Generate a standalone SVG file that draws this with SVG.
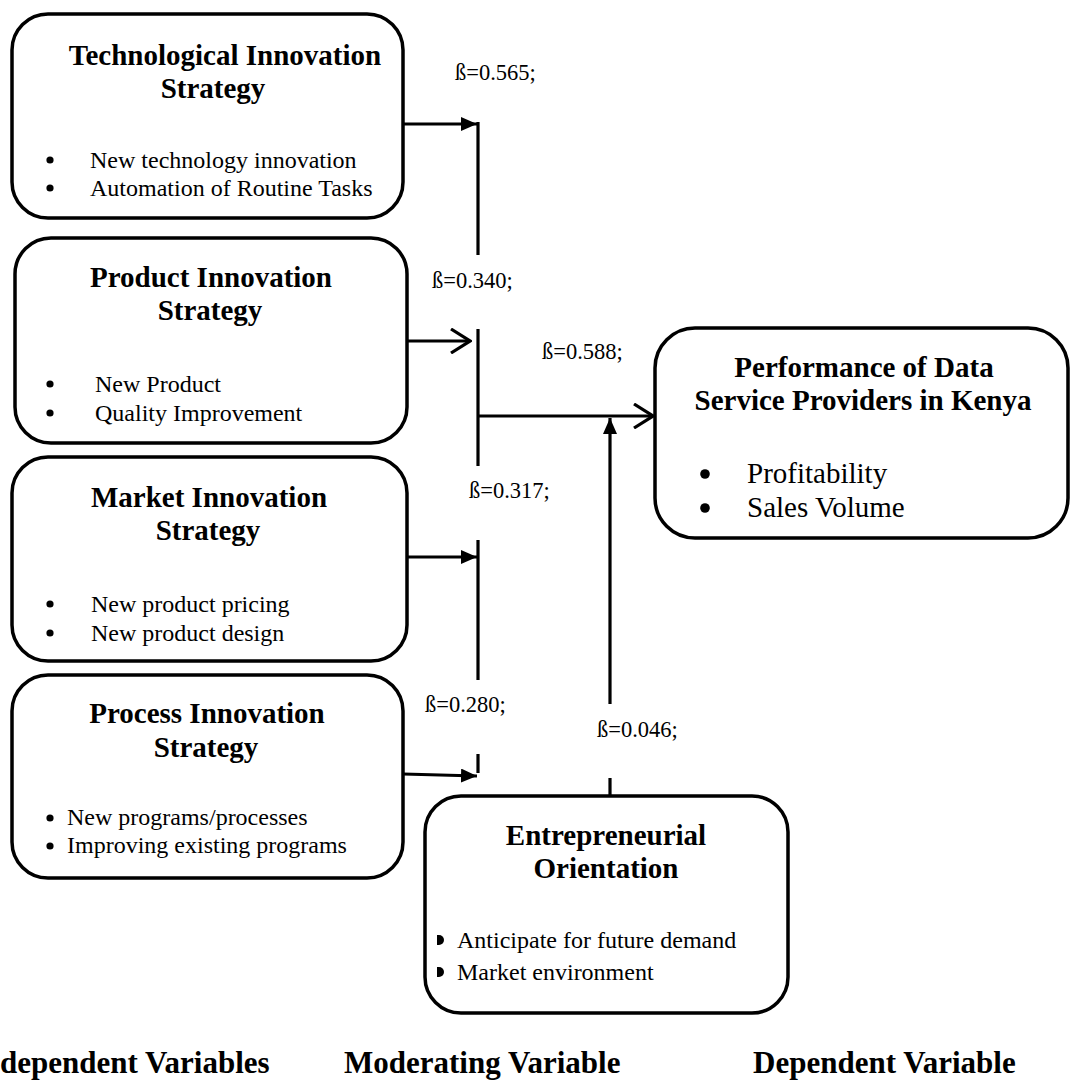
<svg xmlns="http://www.w3.org/2000/svg" width="1072" height="1081" viewBox="0 0 1072 1081">
  <style>
    .box { fill: #fff; stroke: #000; stroke-width: 3.5; }
    .title { font-family: "Liberation Serif", "Times New Roman", serif; font-weight: bold; font-size: 29px; text-anchor: middle; fill: #000; }
    .item { font-family: "Liberation Serif", "Times New Roman", serif; font-size: 24px; fill: #000; }
    .big { font-size: 29px; }
    .beta { font-family: "Liberation Serif", "Times New Roman", serif; font-size: 22.5px; fill: #000; }
    .foot { font-family: "Liberation Serif", "Times New Roman", serif; font-weight: bold; font-size: 31px; fill: #000; }
    .line { fill: none; stroke: #000; stroke-width: 3.2; }
    .dot { fill: #000; }
  </style>
  <defs>
    <marker id="solid" viewBox="0 0 16 14" refX="16" refY="7" markerWidth="16" markerHeight="14" markerUnits="userSpaceOnUse" orient="auto">
      <path d="M0,0 L16,7 L0,14 Z" fill="#000"/>
    </marker>
    <marker id="open" viewBox="0 0 22 26" refX="20" refY="13" markerWidth="22" markerHeight="26" markerUnits="userSpaceOnUse" orient="auto">
      <path d="M1,1 L20,13 L1,25" fill="none" stroke="#000" stroke-width="3.2"/>
    </marker>
  </defs>

  <!-- connectors -->
  <g id="connectors">
    <path class="line" d="M403,124 H477" marker-end="url(#solid)"/>
    <path class="line" d="M478,122 V255"/>
    <path class="line" d="M401,341 H470" marker-end="url(#open)"/>
    <path class="line" d="M478,329 V466"/>
    <path class="line" d="M478,416 H653" marker-end="url(#open)"/>
    <path class="line" d="M407,557 H477" marker-end="url(#solid)"/>
    <path class="line" d="M478,540 V680"/>
    <path class="line" d="M478,754 V773"/>
    <path class="line" d="M403,774 L477,776" marker-end="url(#solid)"/>
    <path class="line" d="M610,704 V418" marker-end="url(#solid)"/>
    <path class="line" d="M610,778 V797"/>
  </g>

  <!-- coefficients -->
  <g id="coefficients">
    <text class="beta" x="455" y="80">ß=0.565;</text>
    <text class="beta" x="432" y="288">ß=0.340;</text>
    <text class="beta" x="542" y="359">ß=0.588;</text>
    <text class="beta" x="469" y="498">ß=0.317;</text>
    <text class="beta" x="425" y="712">ß=0.280;</text>
    <text class="beta" x="597" y="737">ß=0.046;</text>
  </g>

  <g id="technological">
    <rect class="box" x="12" y="14" width="391" height="204" rx="36"/>
    <text class="title" x="225" y="65">Technological Innovation</text>
    <text class="title" x="213" y="98">Strategy</text>
    <circle class="dot" cx="50" cy="160" r="3.6"/>
    <circle class="dot" cx="50" cy="188" r="3.6"/>
    <text class="item" x="90" y="168">New technology innovation</text>
    <text class="item" x="90" y="196">Automation of Routine Tasks</text>
  </g>

  <g id="product">
    <rect class="box" x="15" y="238" width="392" height="205" rx="36"/>
    <text class="title" x="211" y="287">Product Innovation</text>
    <text class="title" x="210" y="320">Strategy</text>
    <circle class="dot" cx="50" cy="384" r="3.6"/>
    <circle class="dot" cx="50" cy="413" r="3.6"/>
    <text class="item" x="95" y="392">New Product</text>
    <text class="item" x="95" y="421">Quality Improvement</text>
  </g>

  <g id="market">
    <rect class="box" x="12" y="457" width="395" height="204" rx="36"/>
    <text class="title" x="209" y="507">Market Innovation</text>
    <text class="title" x="208" y="540">Strategy</text>
    <circle class="dot" cx="50" cy="604" r="3.6"/>
    <circle class="dot" cx="50" cy="633" r="3.6"/>
    <text class="item" x="91" y="612">New product pricing</text>
    <text class="item" x="91" y="641">New product design</text>
  </g>

  <g id="process">
    <rect class="box" x="12" y="675" width="391" height="203" rx="36"/>
    <text class="title" x="207" y="723">Process Innovation</text>
    <text class="title" x="206" y="757">Strategy</text>
    <circle class="dot" cx="50" cy="818" r="3.6"/>
    <circle class="dot" cx="50" cy="846" r="3.6"/>
    <text class="item" x="67" y="825">New programs/processes</text>
    <text class="item" x="67" y="853">Improving existing programs</text>
  </g>

  <g id="performance">
    <rect class="box" x="655" y="328" width="413" height="210" rx="40"/>
    <text class="title" x="864" y="377">Performance of Data</text>
    <text class="title" x="863" y="410">Service Providers in Kenya</text>
    <circle class="dot" cx="705" cy="474" r="4.8"/>
    <circle class="dot" cx="705" cy="508" r="4.8"/>
    <text class="item big" x="747" y="483">Profitability</text>
    <text class="item big" x="747" y="517">Sales Volume</text>
  </g>

  <g id="entrepreneurial">
    <rect class="box" x="425" y="796" width="363" height="217" rx="36"/>
    <text class="title" x="606" y="845">Entrepreneurial</text>
    <text class="title" x="606" y="878">Orientation</text>
    <path class="dot" d="M437,935 h2 a5,5 0 0 1 0,10 h-2 z"/>
    <path class="dot" d="M437,967 h2 a5,5 0 0 1 0,10 h-2 z"/>
    <text class="item" x="457" y="948">Anticipate for future demand</text>
    <text class="item" x="457" y="980">Market environment</text>
  </g>

  <!-- column captions -->
  <g id="captions">
    <text class="foot" x="0" y="1073">dependent Variables</text>
    <text class="foot" x="344" y="1073">Moderating Variable</text>
    <text class="foot" x="753" y="1073">Dependent Variable</text>
  </g>
</svg>
